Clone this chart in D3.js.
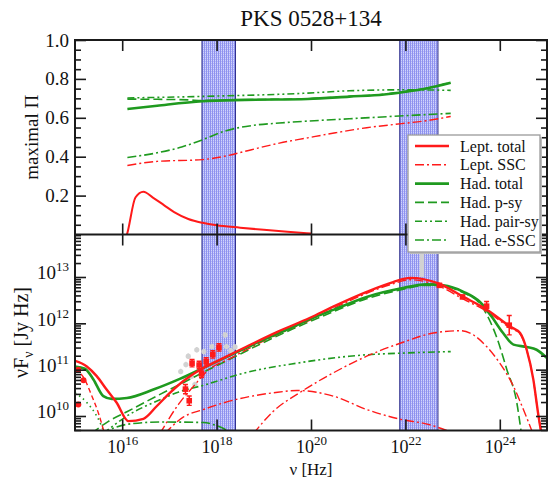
<!DOCTYPE html>
<html><head><meta charset="utf-8">
<script src="https://cdn.jsdelivr.net/npm/d3@7"></script>
<style>body{margin:0;background:#fff;} text{font-family:"Liberation Serif","Times New Roman",serif;fill:#111;}</style>
</head><body><svg id="c" width="548" height="479"></svg>
<script>
// ---------- data (log10 nu, values) ----------
const xTickExps = [16, 18, 20, 22, 24];
const piTicks = [0.2, 0.4, 0.6, 0.8, 1.0];
const fTickExps = [10, 11, 12, 13];
const bandsLogNu = [[17.69, 18.40], [21.88, 22.69]];

// top panel: [log10 nu, maximal Pi]
const piLeptTotal = [[16.05,-0.03],[16.10,0.0],[16.28,0.19],[16.45,0.22],[16.65,0.19],[16.89,0.15],[17.1,0.115],[17.4,0.08],[17.7,0.06],[18.0,0.047],[18.5,0.035],[19.0,0.024],[19.5,0.014],[20.0,0.005]];
const piLeptSSC = [[16.11,0.355],[16.74,0.376],[17.7,0.385],[18.22,0.405],[18.74,0.436],[19.33,0.47],[19.93,0.497],[20.52,0.523],[21.18,0.549],[21.92,0.57],[22.44,0.585],[22.96,0.607]];
const piHadTotal = [[16.11,0.645],[16.74,0.662],[17.7,0.685],[18.6,0.692],[19.93,0.697],[20.81,0.709],[21.55,0.72],[22.0,0.734],[22.44,0.751],[22.96,0.78]];
const piHadPsy = [[16.11,0.696],[16.74,0.695],[17.4,0.692],[17.7,0.688],[18.6,0.693],[19.93,0.698],[20.81,0.71],[21.55,0.721],[22.0,0.735],[22.44,0.752],[22.96,0.781]];
const piHadPairSy = [[16.11,0.702],[17.7,0.71],[19.93,0.727],[20.81,0.739],[22.0,0.744],[22.96,0.741]];
const piHadESSC = [[16.11,0.396],[16.74,0.42],[17.26,0.45],[17.7,0.487],[18.22,0.535],[18.74,0.56],[19.33,0.573],[19.93,0.583],[20.81,0.595],[22.0,0.611],[22.96,0.623]];

// bottom panel: [log10 nu, log10 nuFnu]
const sedLeptTotal = [[15.0,11.19],[15.25,11.07],[15.46,10.86],[15.67,10.57],[15.88,10.29],[16.13,9.89],[16.45,9.94],[16.73,10.21],[17.01,10.5],[17.29,10.75],[17.65,11.0],[18.0,11.18],[18.64,11.5],[19.3,11.82],[19.98,12.12],[20.47,12.36],[21.18,12.68],[21.74,12.89],[22.1,12.98],[22.7,12.86],[23.23,12.57],[23.69,12.32],[24.22,11.93],[24.43,11.79],[24.57,11.43],[24.71,10.79],[24.82,10.0],[24.89,9.57]];
const sedLeptSync = [[15.0,11.02],[15.2,10.8],[15.35,10.45],[15.5,10.05],[15.63,9.6]];
const sedLeptSSC = [[16.9,9.62],[17.3,9.98],[17.72,10.14],[18.2,10.3],[18.7,10.42],[19.2,10.5],[19.7,10.55],[20.47,10.43],[21.18,10.14],[21.89,9.93],[22.48,9.82],[22.97,9.65]];
const sedLeptECa = [[16.8,9.62],[17.22,10.29],[17.51,10.64],[17.79,10.96],[18.3,11.25],[19.0,11.62],[20.0,12.08],[21.0,12.57],[21.7,12.84],[22.1,12.94],[22.7,12.81],[23.23,12.52],[23.69,12.28],[24.22,11.9],[24.43,11.77],[24.57,11.42],[24.71,10.78],[24.82,9.99],[24.89,9.57]];
const sedLeptECb = [[18.78,9.62],[19.2,10.1],[19.77,10.51],[20.47,10.93],[21.18,11.29],[21.89,11.57],[22.59,11.79],[23.16,11.84],[23.37,11.79],[23.72,11.5],[24.0,11.14],[24.29,10.64],[24.5,10.14],[24.71,9.6]];
const sedHadTotal = [[15.0,11.07],[15.21,11.02],[15.39,10.79],[15.6,10.43],[15.78,10.37],[16.1,10.39],[16.66,10.57],[17.22,10.8],[17.79,11.07],[18.35,11.34],[18.92,11.61],[19.62,11.92],[19.98,12.09],[20.47,12.29],[21.18,12.57],[21.89,12.75],[22.45,12.84],[22.8,12.82],[23.23,12.68],[23.58,12.46],[23.83,12.14],[24.07,11.79],[24.29,11.54],[24.57,11.49],[24.78,11.43],[25.0,11.25]];
const sedHadPsy = [[15.35,9.62],[15.7,9.88],[16.1,10.09],[16.73,10.43],[17.22,10.68],[17.79,10.98],[18.35,11.26],[18.92,11.55],[19.62,11.88],[20.47,12.25],[21.18,12.53],[21.89,12.72],[22.45,12.82],[22.8,12.8],[23.23,12.66],[23.58,12.42],[23.93,11.71],[24.15,11.0],[24.36,10.29],[24.46,9.6]];
const sedHadPairSy = [[15.6,9.62],[16.1,10.0],[16.8,10.35],[17.2,10.52],[17.71,10.66],[18.59,10.93],[19.7,11.14],[20.81,11.29],[22.29,11.37],[22.96,11.39]];
const sedHadESSC = [[15.55,9.62],[16.1,9.82],[16.8,9.87],[17.72,9.86],[18.0,9.79],[18.35,9.62]];
const sedHadSync = [[15.0,10.5],[15.25,10.29],[15.46,10.0],[15.64,9.6]];

// observations: [log10 nu, log10 nuFnu, error (dex)]
const obsOptical = [[15.07,11.0,0],[15.18,10.77,0],[15.07,10.25,0]];
const obsXray = [[17.34,10.58,0.1],[17.42,10.33,0.1],[17.48,11.14,0.08],[17.63,11.1,0.08],[17.68,10.91,0.08],[17.78,11.18,0.08],[17.92,11.33,0.08],[18.05,11.48,0.08]];
const obsGamma = [[22.72,12.82,0.04],[23.21,12.57,0.04],[23.72,12.37,0.1],[24.2,11.96,0.21]];
const obsArchive = [[17.24,10.96,0.06],[17.35,11.11,0.06],[17.40,11.29,0.06],[17.47,10.86,0.06],[17.54,10.68,0.06],[17.58,11.43,0.06],[17.73,11.39,0.06],[17.90,11.5,0.06],[18.18,11.75,0.06],[18.21,11.5,0.06],[18.30,11.41,0.06],[18.39,11.49,0.06]];
const obsArchiveBar = [[22.35, 13.0, 13.95]];

const legendLabels = ["Lept. total","Lept. SSC","Had. total","Had. p-sy","Had. pair-sy","Had. e-SSC"];

// ---------- layout ----------
const RED = "#ff1a1a", GREEN = "#1f9a1f";
const X0 = 75, X1 = 547, YT = 40, YM = 234.5, YB = 430.5;
const svg = d3.select("#c");
const P = v => Math.pow(10, v);

const x = d3.scaleLog().domain([1e15, 1e25]).range([X0, X1]);
const yPi = d3.scaleLinear().domain([0, 1]).range([YM, YT]);
const yF = d3.scaleLog().domain([P(9.687), P(13.917)]).range([YB, YM]);

const defs = svg.append("defs");
const pat = defs.append("pattern").attr("id","hatch").attr("patternUnits","userSpaceOnUse").attr("width",2).attr("height",2);
pat.append("rect").attr("width",2).attr("height",2).attr("fill","#d2d4fc");
pat.append("rect").attr("width",1).attr("height",2).attr("fill","#8e92ef");
pat.append("rect").attr("x",1).attr("y",1).attr("width",1).attr("height",1).attr("fill","#b3b6f6");
defs.append("clipPath").attr("id","clipTop").append("rect").attr("x",X0).attr("y",YT).attr("width",X1-X0).attr("height",YM-YT);
defs.append("clipPath").attr("id","clipBot").append("rect").attr("x",X0).attr("y",YM).attr("width",X1-X0).attr("height",YB-YM);

// bands
svg.append("g").selectAll("rect").data(bandsLogNu).join("rect")
  .attr("x", d => x(P(d[0]))).attr("width", d => x(P(d[1])) - x(P(d[0])))
  .attr("y", YT).attr("height", YB - YT)
  .attr("fill","url(#hatch)").attr("stroke","#2d2d8c").attr("stroke-width",1);

// curves
const lineTop = d3.line().x(d => x(P(d[0]))).y(d => yPi(d[1])).curve(d3.curveMonotoneX);
const lineBot = d3.line().x(d => x(P(d[0]))).y(d => yF(P(d[1]))).curve(d3.curveMonotoneX);

const DASH = "9,4", DASHDOT = "9,3,2,3", DASHDOTDOT = "7,3,2,3,2,3", DOT = "1.5,3.5";
const gTop = svg.append("g").attr("clip-path","url(#clipTop)");
const topCurves = [
  [piHadESSC, GREEN, DASHDOT, 1.6],
  [piHadPairSy, GREEN, DASHDOTDOT, 1.6],
  [piHadPsy, GREEN, DASH, 1.6],
  [piLeptSSC, RED, DASHDOT, 1.4],
  [piHadTotal, GREEN, null, 2.6],
  [piLeptTotal, RED, null, 2.0]
];
topCurves.forEach(c => gTop.append("path").attr("d", lineTop(c[0])).attr("fill","none")
  .attr("stroke", c[1]).attr("stroke-width", c[3]).attr("stroke-dasharray", c[2]));

const gBot = svg.append("g").attr("clip-path","url(#clipBot)");
// archival gray data
const gray = "#d2d2d2";
gBot.selectAll("line.gb").data(obsArchiveBar).join("line").attr("class","gb")
  .attr("x1", d => x(P(d[0]))).attr("x2", d => x(P(d[0])))
  .attr("y1", d => yF(P(d[1]))).attr("y2", d => yF(P(d[2])))
  .attr("stroke", gray).attr("stroke-width", 4.5);
gBot.selectAll("line.ge").data(obsArchive).join("line").attr("class","ge")
  .attr("x1", d => x(P(d[0]))).attr("x2", d => x(P(d[0])))
  .attr("y1", d => yF(P(d[1]-d[2]))).attr("y2", d => yF(P(d[1]+d[2])))
  .attr("stroke", gray).attr("stroke-width", 1.5);
gBot.selectAll("circle.g").data(obsArchive).join("circle").attr("class","g")
  .attr("cx", d => x(P(d[0]))).attr("cy", d => yF(P(d[1]))).attr("r", 2.6).attr("fill", gray);

const botCurves = [
  [sedHadESSC, GREEN, DASHDOT, 1.6],
  [sedHadSync, GREEN, DOT, 1.6],
  [sedHadPairSy, GREEN, DASHDOTDOT, 1.6],
  [sedHadPsy, GREEN, DASH, 1.6],
  [sedLeptSync, RED, "5,3", 1.4],
  [sedLeptSSC, RED, DASHDOT, 1.4],
  [sedLeptECb, RED, DASHDOT, 1.4],
  [sedLeptECa, RED, DASHDOT, 1.4],
  [sedHadTotal, GREEN, null, 2.6],
  [sedLeptTotal, RED, null, 2.4]
];
botCurves.forEach(c => gBot.append("path").attr("d", lineBot(c[0])).attr("fill","none")
  .attr("stroke", c[1]).attr("stroke-width", c[3]).attr("stroke-dasharray", c[2]));

// red data
const errPts = obsXray.concat(obsGamma);
gBot.selectAll("line.re").data(errPts).join("line").attr("class","re")
  .attr("x1", d => x(P(d[0]))).attr("x2", d => x(P(d[0])))
  .attr("y1", d => yF(P(d[1]-d[2]))).attr("y2", d => yF(P(d[1]+d[2])))
  .attr("stroke", RED).attr("stroke-width", 1.6);
[-1, 1].forEach(s => gBot.selectAll("line.rc" + s).data(errPts.filter(d => d[2] > 0.05)).join("line")
  .attr("x1", d => x(P(d[0])) - 2.5).attr("x2", d => x(P(d[0])) + 2.5)
  .attr("y1", d => yF(P(d[1] + s*d[2]))).attr("y2", d => yF(P(d[1] + s*d[2])))
  .attr("stroke", RED).attr("stroke-width", 1.4));
gBot.selectAll("rect.r").data(errPts).join("rect").attr("class","r")
  .attr("x", d => x(P(d[0])) - 2.8).attr("y", d => yF(P(d[1])) - 2.8)
  .attr("width", 5.6).attr("height", 5.6).attr("fill", RED);
gBot.selectAll("circle.r").data(obsOptical).join("circle").attr("class","r")
  .attr("cx", d => x(P(d[0]))).attr("cy", d => yF(P(d[1]))).attr("r", 3).attr("fill", RED);

// ---------- axes ----------
const AX = "#1a1a1a";
function styleAxis(g){ g.select(".domain").remove(); g.selectAll("line").attr("stroke",AX).attr("stroke-width",1.6); }
const xMaj = xTickExps.map(P);
svg.append("g").attr("transform",`translate(0,${YT})`).call(d3.axisTop(x).tickValues(xMaj).tickSize(-11).tickFormat("")).call(styleAxis);
svg.append("g").attr("transform",`translate(0,${YM})`).call(d3.axisTop(x).tickValues(xMaj).tickSize(11).tickFormat("")).call(styleAxis);
svg.append("g").attr("transform",`translate(0,${YM})`).call(d3.axisBottom(x).tickValues(xMaj).tickSize(11).tickFormat("")).call(styleAxis);
const xb = svg.append("g").attr("transform",`translate(0,${YB})`).call(d3.axisBottom(x).tickValues(xMaj).tickSize(-11).tickPadding(10)).call(styleAxis);
xb.selectAll(".tick text").text(null).attr("font-size",18).attr("fill","#111").attr("font-family","Liberation Serif")
  .each(function(d){ const t = d3.select(this); const e = Math.round(Math.log10(d));
    t.append("tspan").text("10"); t.append("tspan").attr("dy",-8).attr("font-size",13).text(e); });

const piMinor = d3.range(0.05, 1.0, 0.05).filter(v => Math.abs(v*5 - Math.round(v*5)) > 1e-6);
[[X0, d3.axisLeft], [X1, d3.axisRight]].forEach(([px, ax], i) => {
  const gM = svg.append("g").attr("transform",`translate(${px},0)`).call(ax(yPi).tickValues(piTicks).tickSize(-11).tickPadding(6).tickFormat(i === 0 ? d3.format(".1f") : "")).call(styleAxis);
  gM.selectAll("text").attr("font-size",19).attr("font-family","Liberation Serif").attr("fill","#111");
  svg.append("g").attr("transform",`translate(${px},0)`).call(ax(yPi).tickValues(piMinor).tickSize(-6).tickFormat("")).call(styleAxis);
  const fMaj = fTickExps.map(P);
  const fMin = [];
  for (let e = 9; e <= 13; e++) for (let m = 2; m <= 9; m++) { const v = m*P(e); if (v > yF.domain()[0] && v < yF.domain()[1]) fMin.push(v); }
  const gF = svg.append("g").attr("transform",`translate(${px},0)`).call(ax(yF).tickValues(fMaj).tickSize(-11).tickPadding(6).tickFormat("")).call(styleAxis);
  if (i === 0) gF.selectAll(".tick text").attr("font-size",19).attr("font-family","Liberation Serif").attr("fill","#111").attr("dy","0.1em")
    .each(function(d){ const t = d3.select(this); const e = Math.round(Math.log10(d));
      t.text(null); t.append("tspan").text("10"); t.append("tspan").attr("dy",-8).attr("font-size",13).text(e); });
  svg.append("g").attr("transform",`translate(${px},0)`).call(ax(yF).tickValues(fMin).tickSize(-6).tickFormat("")).call(styleAxis);
});

// frames
svg.append("rect").attr("x",X0).attr("y",YT).attr("width",X1-X0).attr("height",YB-YT).attr("fill","none").attr("stroke",AX).attr("stroke-width",2);
svg.append("line").attr("x1",X0).attr("x2",X1).attr("y1",YM).attr("y2",YM).attr("stroke",AX).attr("stroke-width",2);

// labels
svg.append("text").attr("x",(X0+X1)/2).attr("y",26).attr("text-anchor","middle").attr("font-size",23).text("PKS 0528+134");
svg.append("text").attr("x",(X0+X1)/2).attr("y",475).attr("text-anchor","middle").attr("font-size",17).text("ν [Hz]");
svg.append("text").attr("transform",`translate(38,${(YT+YM)/2}) rotate(-90)`).attr("text-anchor","middle").attr("font-size",19).text("maximal Π");
const yl = svg.append("text").attr("transform",`translate(28,${(YM+YB)/2}) rotate(-90)`).attr("text-anchor","middle").attr("font-size",20);
yl.append("tspan").text("νF");
yl.append("tspan").attr("dy",5).attr("font-size",14).text("ν");
yl.append("tspan").attr("dy",-5).text(" [Jy Hz]");

// legend
const legStyles = [[RED,null,2.4],[RED,DASHDOT,1.4],[GREEN,null,2.6],[GREEN,DASH,1.6],[GREEN,DASHDOTDOT,1.6],[GREEN,DASHDOT,1.6]];
const lg = svg.append("g");
lg.append("rect").attr("x",410).attr("y",137).attr("width",132).attr("height",117).attr("fill","#bbb");
lg.append("rect").attr("x",408).attr("y",135).attr("width",132).attr("height",117).attr("fill","#fff").attr("stroke","#9a9a9a").attr("stroke-width",1.3);
legendLabels.forEach((lab, i) => {
  const yy = 146 + i*18.8;
  lg.append("line").attr("x1",415).attr("x2",449).attr("y1",yy).attr("y2",yy)
    .attr("stroke",legStyles[i][0]).attr("stroke-width",legStyles[i][2]).attr("stroke-dasharray",legStyles[i][1]);
  lg.append("text").attr("x",460).attr("y",yy+5.5).attr("font-size",16).text(lab);
});
</script></body></html>
